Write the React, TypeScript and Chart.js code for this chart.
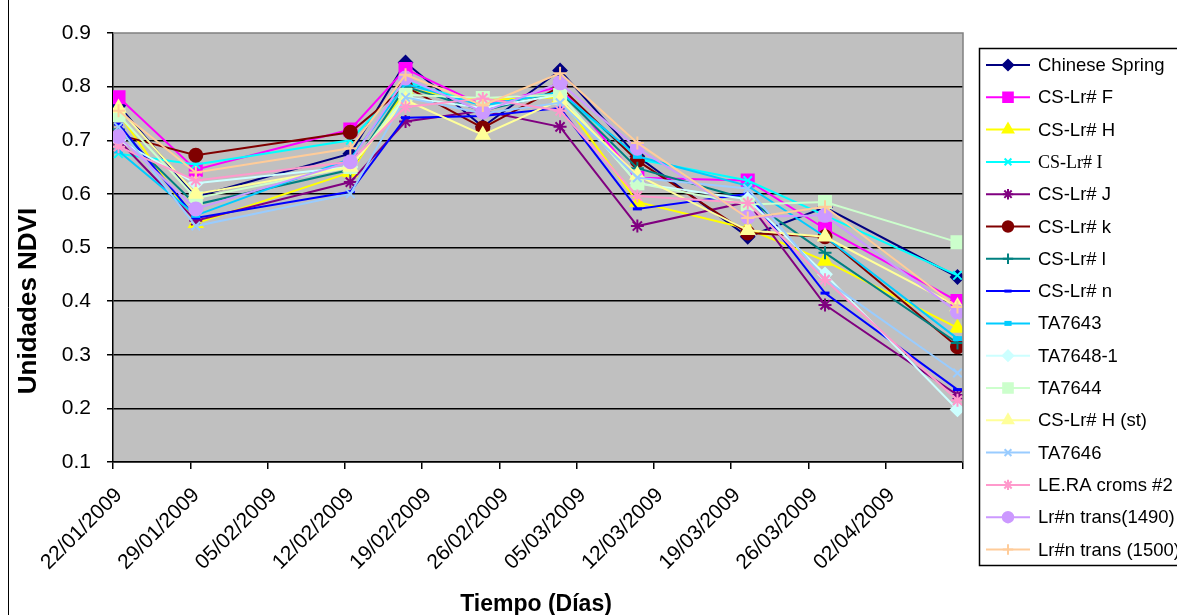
import React, { useEffect, useRef } from 'react';
import { Chart, registerables } from 'chart.js';
import { drawPoint } from 'chart.js/helpers';

Chart.register(...registerables);

// ---------- data ----------
const startYear = 2009;
const startMonth = 0; // January
const startDay = 22;
const sampleDays = [0, 7, 21, 26, 33, 40, 47, 57, 64, 76]; // days after 22/01/2009
const xTickDays = [0, 7, 14, 21, 28, 35, 42, 49, 56, 63, 70, 77];
const yTicks = [0.1, 0.2, 0.3, 0.4, 0.5, 0.6, 0.7, 0.8, 0.9];

const seriesNames = [
  'Chinese Spring', 'CS-Lr# F', 'CS-Lr# H', 'CS-Lr# I', 'CS-Lr# J', 'CS-Lr# k', 'CS-Lr# l', 'CS-Lr# n',
  'TA7643', 'TA7648-1', 'TA7644', 'CS-Lr# H (st)', 'TA7646', 'LE.RA croms #2', 'Lr#n trans(1490)', 'Lr#n trans (1500)',
];
const seriesColors = [
  '#000080', '#FF00FF', '#FFFF00', '#00FFFF', '#800080', '#800000', '#008080', '#0000FF',
  '#00CCFF', '#CCFFFF', '#CCFFCC', '#FFFF99', '#99CCFF', '#FF99CC', '#CC99FF', '#FFCC99',
];
const seriesMarkers = [
  'rectRot', 'rect', 'triangle', 'crossRot', 'star', 'circle', 'cross', 'line',
  'line', 'rectRot', 'rect', 'triangle', 'crossRot', 'star', 'circle', 'cross',
];

const chineseSpring = [0.765, 0.595, 0.675, 0.845, 0.725, 0.83, 0.67, 0.52, 0.575, 0.445];
const csLrF = [0.78, 0.645, 0.72, 0.833, 0.765, 0.8, 0.63, 0.625, 0.535, 0.4];
const csLrH = [0.75, 0.545, 0.64, 0.795, 0.775, 0.78, 0.585, 0.535, 0.475, 0.35];
const csLrI = [0.675, 0.655, 0.7, 0.81, 0.765, 0.79, 0.665, 0.625, 0.56, 0.448];
const csLrJ = [0.7, 0.55, 0.622, 0.735, 0.755, 0.725, 0.54, 0.585, 0.393, 0.225];
const csLrK = [0.71, 0.672, 0.715, 0.8, 0.723, 0.8, 0.662, 0.527, 0.52, 0.315];
const csLrL = [0.72, 0.58, 0.645, 0.8, 0.755, 0.79, 0.648, 0.59, 0.49, 0.322];
const csLrN = [0.73, 0.555, 0.604, 0.742, 0.745, 0.76, 0.572, 0.6, 0.415, 0.235];
const ta7643 = [0.68, 0.56, 0.665, 0.805, 0.765, 0.79, 0.67, 0.615, 0.52, 0.33];
const ta7648 = [0.7, 0.62, 0.65, 0.78, 0.76, 0.785, 0.62, 0.59, 0.45, 0.198];
const ta7644 = [0.747, 0.592, 0.65, 0.785, 0.779, 0.785, 0.62, 0.58, 0.585, 0.51];
const csLrHst = [0.76, 0.6, 0.65, 0.775, 0.71, 0.775, 0.635, 0.532, 0.52, 0.39];
const ta7646 = [0.725, 0.54, 0.6, 0.78, 0.75, 0.77, 0.63, 0.61, 0.44, 0.266];
const leRaCroms2 = [0.688, 0.625, 0.66, 0.762, 0.778, 0.755, 0.596, 0.583, 0.44, 0.215];
const trans1490 = [0.707, 0.572, 0.66, 0.816, 0.753, 0.807, 0.685, 0.557, 0.56, 0.38];
const trans1500 = [0.755, 0.64, 0.685, 0.822, 0.765, 0.825, 0.695, 0.555, 0.576, 0.389];

const seriesValues = [
  chineseSpring, csLrF, csLrH, csLrI, csLrJ, csLrK, csLrL, csLrN,
  ta7643, ta7648, ta7644, csLrHst, ta7646, leRaCroms2, trans1490, trans1500,
];

const xTitle = 'Tiempo (Días)';
const yTitle = 'Unidades NDVI';

// ---------- helpers ----------
const SANS = "'Liberation Sans', Arial, sans-serif";
const SERIF = "'Liberation Serif', 'Times New Roman', serif";

function fmtDate(d: number): string {
  const dt = new Date(startYear, startMonth, startDay + Math.round(d));
  const dd = String(dt.getDate()).padStart(2, '0');
  const mm = String(dt.getMonth() + 1).padStart(2, '0');
  return `${dd}/${mm}/${dt.getFullYear()}`;
}

function markerRadius(style: string): number {
  switch (style) {
    case 'rect': return 8.5;
    case 'rectRot': return 6.5;
    case 'triangle': return 7.5;
    case 'circle': return 6.5;
    case 'crossRot': return 6;
    case 'star': return 6.5;
    case 'cross': return 6.5;
    case 'line': return 4.5;
    default: return 5;
  }
}

const decorPlugin = {
  id: 'decor',
  beforeDraw(chart: any) {
    const { ctx, chartArea: a } = chart;
    ctx.save();
    ctx.fillStyle = '#ffffff';
    ctx.fillRect(0, 0, chart.width, chart.height);
    ctx.fillStyle = '#C0C0C0';
    ctx.fillRect(a.left, a.top, a.right - a.left, a.bottom - a.top);
    ctx.restore();
  },
  afterDraw(chart: any) {
    const { ctx, chartArea: a } = chart;
    ctx.save();
    // plot border (top/right) gray
    ctx.strokeStyle = '#808080';
    ctx.lineWidth = 1.5;
    ctx.beginPath();
    ctx.moveTo(a.left, a.top);
    ctx.lineTo(a.right, a.top);
    ctx.lineTo(a.right, a.bottom);
    ctx.stroke();
    // outer frame left edge
    ctx.strokeStyle = '#000';
    ctx.lineWidth = 1;
    ctx.beginPath();
    ctx.moveTo(8.5, 0);
    ctx.lineTo(8.5, chart.height);
    ctx.stroke();

    // titles
    ctx.fillStyle = '#000';
    ctx.textAlign = 'center';
    ctx.textBaseline = 'middle';
    ctx.font = `bold 23px ${SANS}`;
    ctx.fillText(xTitle, (a.left + a.right) / 2 - 2, 605);
    ctx.save();
    ctx.translate(29, 301);
    ctx.rotate(-Math.PI / 2);
    ctx.font = `bold 26px ${SANS}`;
    ctx.fillText(yTitle, 0, 0);
    ctx.restore();

    // legend
    const lx = 979.5, ly = 48.5;
    ctx.strokeStyle = '#000';
    ctx.lineWidth = 1.5;
    ctx.strokeRect(lx, ly, 260, 517);
    const step = 32.3;
    seriesNames.forEach((name, i) => {
      const y = 65 + i * step;
      const color = seriesColors[i];
      ctx.strokeStyle = color;
      ctx.lineWidth = 2;
      ctx.beginPath();
      ctx.moveTo(986, y);
      ctx.lineTo(1030, y);
      ctx.stroke();
      const style = seriesMarkers[i];
      ctx.fillStyle = color;
      ctx.strokeStyle = color;
      ctx.lineWidth = style === 'line' ? (i === 8 ? 5 : 3) : 2;
      drawPoint(ctx, { pointStyle: style, radius: markerRadius(style) * 0.8, rotation: 0, borderWidth: ctx.lineWidth }, 1008, y);
      ctx.fillStyle = '#000';
      ctx.font = name === 'CS-Lr# I' ? `18px ${SERIF}` : `18.5px ${SANS}`;
      ctx.textAlign = 'left';
      ctx.textBaseline = 'middle';
      ctx.fillText(name, 1038, y + 1);
    });
    ctx.restore();
  },
};

export default function App() {
  const canvasRef = useRef<HTMLCanvasElement | null>(null);

  useEffect(() => {
    document.body.style.margin = '0';
    document.body.style.overflow = 'hidden';
    const canvas = canvasRef.current;
    if (!canvas) return;

    const datasets = seriesNames.map((name, i) => {
      const style = seriesMarkers[i];
      return {
        label: name,
        // Excel date axis centres each day between tick marks (+0.5 day)
        data: sampleDays.map((d, j) => ({ x: d + 0.5, y: seriesValues[i][j] })),
        borderColor: seriesColors[i],
        backgroundColor: seriesColors[i],
        pointBackgroundColor: seriesColors[i],
        pointBorderColor: seriesColors[i],
        pointStyle: style,
        pointRadius: markerRadius(style),
        pointBorderWidth: style === 'line' ? (i === 8 ? 5 : 3) : 2,
        borderWidth: 2,
        tension: 0,
        fill: false,
        order: seriesNames.length - i,
      };
    });

    const chart = new Chart(canvas, {
      type: 'line',
      data: { datasets },
      options: {
        animation: false,
        responsive: false,
        devicePixelRatio: 1,
        layout: { padding: { left: 0, top: 33, right: 1177 - 963, bottom: 0 } },
        plugins: {
          legend: { display: false },
          tooltip: { enabled: false },
          title: { display: false },
        },
        scales: {
          x: {
            type: 'linear',
            min: 0,
            max: 77,
            afterBuildTicks: (scale: any) => {
              scale.ticks = xTickDays.map((v) => ({ value: v }));
            },
            afterFit: (scale: any) => {
              scale.height = 615 - 462;
            },
            ticks: {
              autoSkip: false,
              minRotation: 45,
              maxRotation: 45,
              padding: 14,
              labelOffset: 6,
              color: '#000',
              font: { family: SANS, size: 21 },
              callback: (v: any) => (Number(v) >= 77 ? '' : fmtDate(Number(v))),
            },
            grid: { drawOnChartArea: false, drawTicks: true, tickLength: 7, color: '#000', lineWidth: 1.5 },
            border: { display: true, color: '#000', width: 1.5 },
          },
          y: {
            type: 'linear',
            min: 0.1,
            max: 0.9,
            afterBuildTicks: (scale: any) => {
              scale.ticks = yTicks.map((v) => ({ value: v }));
            },
            afterFit: (scale: any) => {
              scale.width = 113;
            },
            ticks: {
              padding: 16,
              color: '#000',
              font: { family: SANS, size: 21 },
              callback: (v: any) => Number(v).toFixed(1),
            },
            grid: {
              color: (c: any) => (c.tick && c.tick.value > 0.85 ? 'rgba(0,0,0,0)' : '#000'),
              tickColor: '#000',
              lineWidth: 1.5,
              tickLength: 6,
            },
            border: { display: true, color: '#000', width: 1.5 },
          },
        },
      },
      plugins: [decorPlugin],
    } as any);

    return () => {
      chart.destroy();
    };
  }, []);

  return (
    <div style={{ position: 'fixed', left: 0, top: 0, width: 1177, height: 615, background: '#fff' }}>
      <canvas ref={canvasRef} width={1177} height={615} style={{ width: 1177, height: 615, display: 'block' }} />
    </div>
  );
}
